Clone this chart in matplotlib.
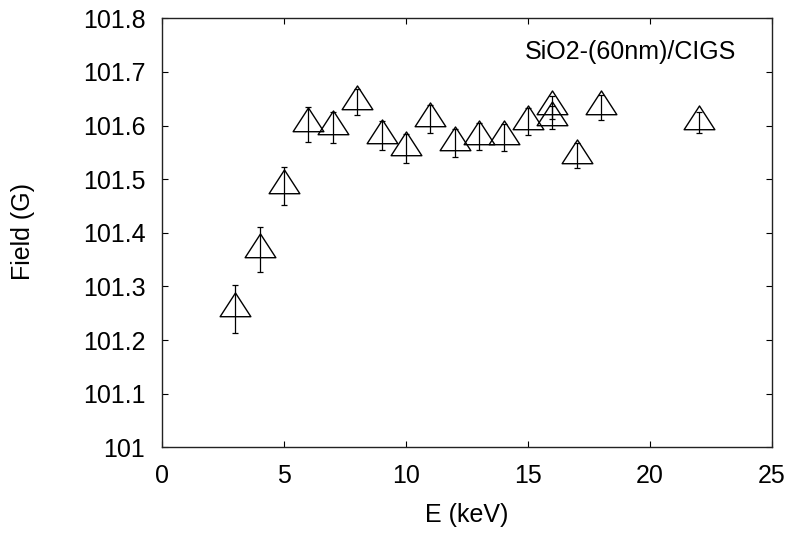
import matplotlib
matplotlib.use("Agg")
import matplotlib.pyplot as plt
from matplotlib.path import Path

energy = [3, 4, 5, 6, 7, 8, 9, 10, 11, 12, 13, 14, 15, 16, 16, 17, 18, 22]
field = [101.258, 101.368, 101.487, 101.602, 101.597, 101.644, 101.581, 101.558,
         101.613, 101.568, 101.579, 101.578, 101.607, 101.634, 101.615, 101.544,
         101.634, 101.606]
field_err = [0.045, 0.042, 0.036, 0.032, 0.029, 0.025, 0.027, 0.027, 0.026, 0.026,
             0.025, 0.025, 0.025, 0.022, 0.022, 0.023, 0.023, 0.020]

xticks = [0, 5, 10, 15, 20, 25]
yticks = [101.0, 101.1, 101.2, 101.3, 101.4, 101.5, 101.6, 101.7, 101.8]
ytick_labels = ["101", "101.1", "101.2", "101.3", "101.4", "101.5", "101.6", "101.7", "101.8"]
annotation = "SiO2-(60nm)/CIGS"

plt.rcParams['font.family'] = ['Liberation Sans', 'DejaVu Sans']
FS = 18

W, H = 793, 534
fig = plt.figure(figsize=(W / 100, H / 100), dpi=100)
ax = fig.add_axes([162 / W, (H - 447.3) / H, (772 - 162) / W, (447.3 - 18.3) / H])

tri = Path([(0, 16.5), (-15.35, -7.2), (15.35, -7.2), (0, 16.5)],
           [Path.MOVETO, Path.LINETO, Path.LINETO, Path.CLOSEPOLY])

ax.errorbar(energy, field, yerr=field_err, fmt='none', ecolor='black',
            elinewidth=0.9, capsize=2.2, capthick=0.9, zorder=2)
ax.plot(energy, field, linestyle='none', marker=tri, markersize=23.8,
        markerfacecolor='none', markeredgecolor='black', markeredgewidth=1.0, zorder=3)

ax.set_xlim(0, 25)
ax.set_ylim(101.0, 101.8)
ax.set_xticks(xticks)
ax.set_xticklabels([str(t) for t in xticks])
ax.set_yticks(yticks)
ax.set_yticklabels(ytick_labels)

ax.tick_params(direction='in', length=4.5, width=0.8, top=True, right=True,
               labelsize=FS, colors='black')
ax.tick_params(axis='x', pad=12)
ax.tick_params(axis='y', pad=12)
for s in ax.spines.values():
    s.set_linewidth(1.0)
    s.set_color('#222222')

ax.text(23.55, 101.738, annotation, ha='right', va='center', fontsize=FS)

fig.text(467 / W, 1 - 515 / H, "E (keV)", ha='center', va='center', fontsize=FS)
fig.text(23 / W, 1 - 232 / H, "Field (G)", ha='center', va='center', fontsize=FS,
         rotation=90)

fig.savefig("out.png", dpi=100)
